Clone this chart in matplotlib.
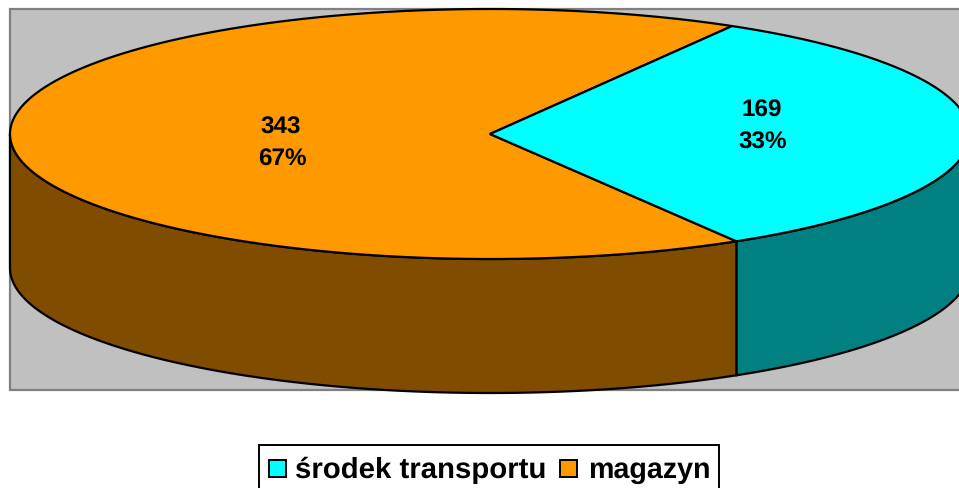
import numpy as np
import matplotlib
matplotlib.use("Agg")
import matplotlib.pyplot as plt
from matplotlib.patches import Polygon, Rectangle

plt.rcParams["font.family"] = ["Liberation Sans", "DejaVu Sans"]
plt.rcParams["text.hinting"] = "no_hinting"

categories = ["środek transportu", "magazyn"]
values = [169, 343]
percents = ["33%", "67%"]
top_colors = ["#00FFFF", "#FF9900"]
side_colors = ["#008080", "#804C00"]

# pie geometry in pixels
CX, CY = 490, 135
RX, RY = 480, 125
DEPTH = 134
ROTATION = 0.3


def rim(a0, a1, dy=0.0, n=300):
    t = np.radians(np.linspace(a0, a1, n))
    return np.column_stack([CX + RX * np.cos(t), CY + dy - RY * np.sin(t)])


fig = plt.figure(figsize=(9.59, 4.89), dpi=100)
ax = fig.add_axes([0, 0, 1, 1])
ax.set_xlim(0, 959)
ax.set_ylim(489, 0)
ax.axis("off")

# plot area
ax.add_patch(Rectangle((9.5, 10), 960, 381, fc="#C0C0C0", ec="#808080", lw=1.6, zorder=1))

# slice angles, first slice sits on the right-hand side
sweep = 360 * values[0] / sum(values)
start, end = -sweep / 2 + ROTATION, sweep / 2 + ROTATION

# side walls (only the front half of the rim is visible)
wall0 = rim(start, 0)
ax.add_patch(Polygon(np.vstack([wall0, rim(0, start, DEPTH)]), closed=True,
                     fc=side_colors[0], ec="black", lw=1.6, zorder=2, clip_on=False))
wall1 = rim(180, 360 + start)
ax.add_patch(Polygon(np.vstack([wall1, rim(360 + start, 180, DEPTH)]), closed=True,
                     fc=side_colors[1], ec="black", lw=1.6, zorder=2, clip_on=False))

# top faces
centre = np.array([[CX, CY]])
ax.add_patch(Polygon(np.vstack([centre, rim(end, 360 + start)]), closed=True,
                     fc=top_colors[1], ec="black", lw=1.6, zorder=3))
ax.add_patch(Polygon(np.vstack([centre, rim(start, end)]), closed=True,
                     fc=top_colors[0], ec="black", lw=1.6, zorder=3))

# data labels
for x, y, val, pct in zip([762, 281], [117, 134], values, percents):
    ax.text(x, y, str(val), ha="center", va="baseline", fontsize=17.5,
            fontweight="bold", zorder=4)
    ax.text(x + 1, y + 32, pct, ha="center", va="baseline", fontsize=17.5,
            fontweight="bold", zorder=4)

# legend
ax.add_patch(Rectangle((259, 445.5), 460, 60, fc="white", ec="black", lw=1.4, zorder=4))
for x, col in zip([269, 560], top_colors):
    ax.add_patch(Rectangle((x, 461), 17, 17, fc=col, ec="black", lw=1.4, zorder=5))
for x, name, size in zip([295, 588], categories, [21.2, 20.6]):
    ax.text(x, 478, name, ha="left", va="baseline", fontsize=size, fontweight="bold", zorder=5)

fig.savefig("out.png", dpi=100)
plt.close()
